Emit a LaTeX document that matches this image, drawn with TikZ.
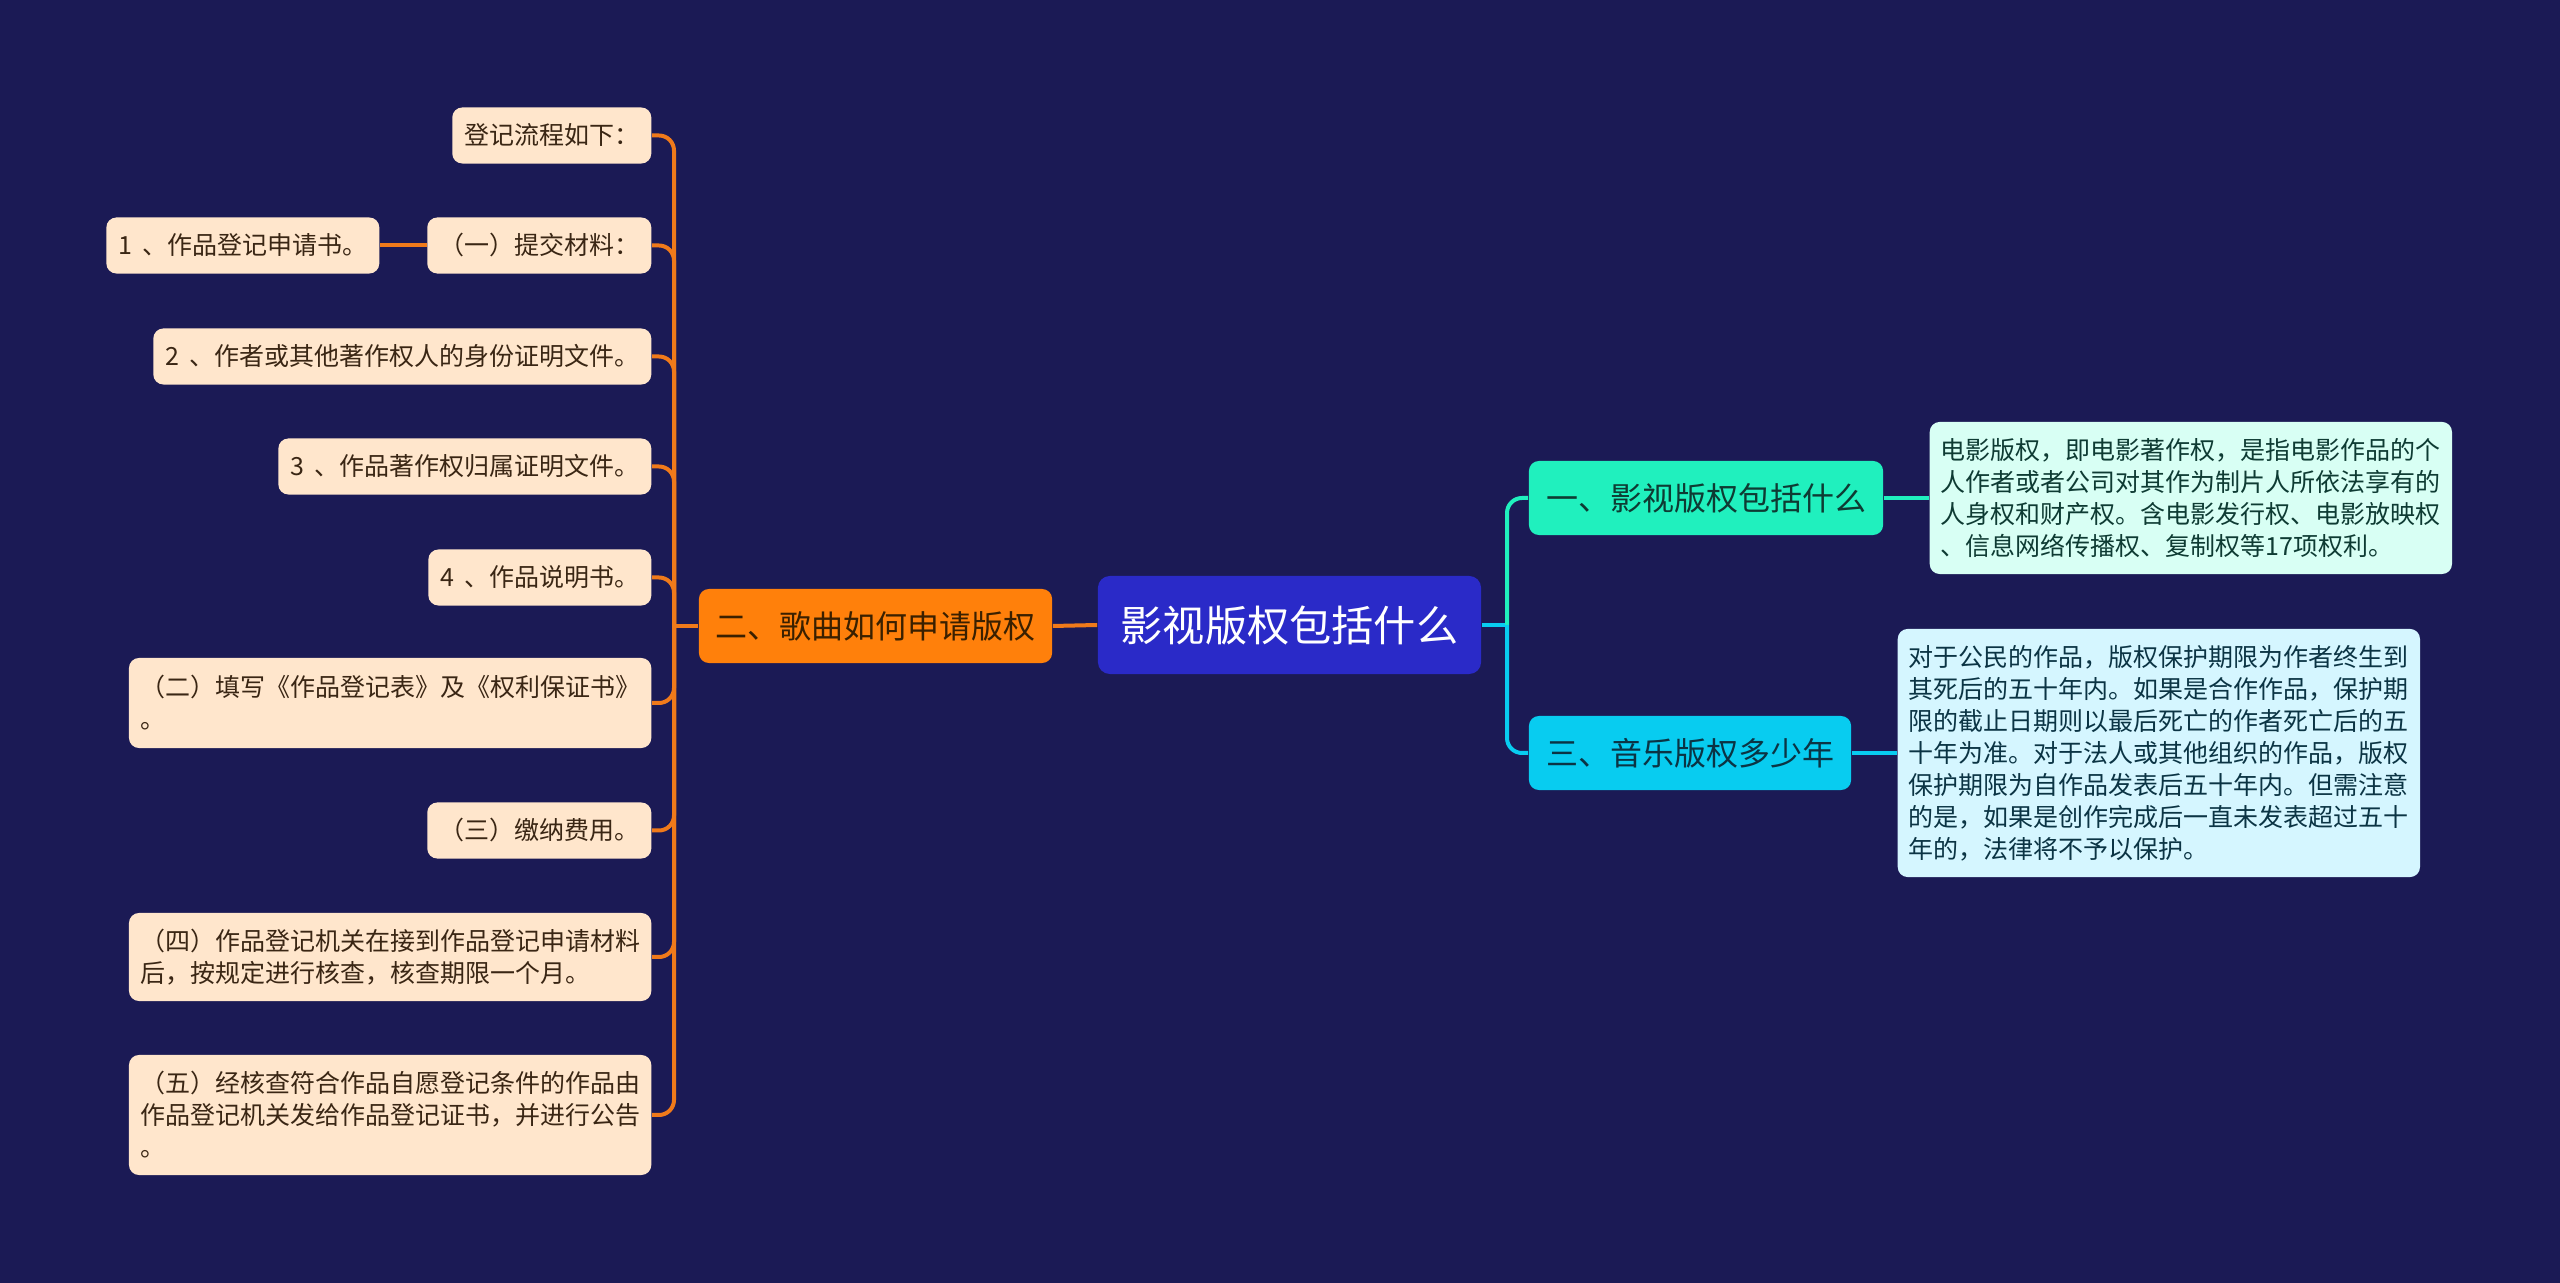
\documentclass[tikz,border=0pt]{standalone}
\usepackage{fontspec}
\setmainfont{Noto Sans CJK SC}
\definecolor{bg}{HTML}{1B1A55}
\definecolor{rootc}{HTML}{2A2AC8}
\definecolor{orangec}{HTML}{FF800B}
\definecolor{oline}{HTML}{F07A1A}
\definecolor{peach}{HTML}{FFE6CC}
\definecolor{leaftext}{HTML}{3A2614}
\definecolor{mint}{HTML}{20F0BE}
\definecolor{cyanc}{HTML}{08CCF0}
\definecolor{lmint}{HTML}{D8FFF4}
\definecolor{lcyan}{HTML}{D5F6FF}
\definecolor{minttext}{HTML}{0E3B33}
\definecolor{cyantext}{HTML}{0B3444}
\definecolor{orangetext}{HTML}{3A2000}
\newcommand{\dgap}{\hspace{0.1cm}}
\begin{document}
\begin{tikzpicture}[x=0.01cm,y=-0.01cm,
  leaf/.style={fill=peach, rounded corners=0.1cm, text=leaftext,
    font=\fontsize{7.11pt}{9.1pt}\selectfont, inner xsep=0.12cm, inner ysep=0pt,
    minimum height=0.56cm, anchor=east},
  multileaf/.style={leaf, text width=5.0cm, align=left, inner xsep=0.11cm},
  mainbr/.style={rounded corners=0.1cm, font=\fontsize{9.1pt}{11pt}\selectfont,
    minimum height=0.74cm, inner sep=0pt},
  textbox/.style={rounded corners=0.1cm, font=\fontsize{7.11pt}{9.1pt}\selectfont,
    text width=5.0cm, align=left, inner xsep=0.11cm, inner ysep=0pt},
  olink/.style={draw=oline, line width=0.04cm, rounded corners=0.15cm},
  mlink/.style={draw=mint, line width=0.04cm, rounded corners=0.15cm},
  clink/.style={draw=cyanc, line width=0.04cm, rounded corners=0.15cm}
]
\fill[bg] (0,0) rectangle (2560,1283);

% root
\node[fill=rootc, rounded corners=0.12cm, text=white, font=\fontsize{12pt}{14pt}\selectfont,
  minimum width=3.83cm, minimum height=0.98cm, inner sep=0pt] (root) at (1289.5,625) {影视版权包括什么};

% main branches
\node[mainbr, fill=orangec, text=orangetext, minimum width=3.53cm] (b2) at (875.5,626) {二、歌曲如何申请版权};
\node[mainbr, fill=mint, text=minttext, minimum width=3.54cm] (b1) at (1706,498) {一、影视版权包括什么};
\node[mainbr, fill=cyanc, text=cyantext, minimum width=3.22cm] (b3) at (1690,753) {三、音乐版权多少年};

% right text boxes
\node[textbox, fill=lmint, text=minttext, minimum height=1.52cm, anchor=west] (t1) at (1929,498)
  {电影版权，即电影著作权，是指电影作品的个\\人作者或者公司对其作为制片人所依法享有的\\人身权和财产权。含电影发行权、电影放映权\\、信息网络传播权、复制权等17项权利。};
\node[textbox, fill=lcyan, text=cyantext, minimum height=2.48cm, anchor=west] (t2) at (1897,753)
  {对于公民的作品，版权保护期限为作者终生到\\其死后的五十年内。如果是合作作品，保护期\\限的截止日期则以最后死亡的作者死亡后的五\\十年为准。对于法人或其他组织的作品，版权\\保护期限为自作品发表后五十年内。但需注意\\的是，如果是创作完成后一直未发表超过五十\\年的，法律将不予以保护。};

% left leaves
\node[leaf] (l0) at (652,135.5) {登记流程如下：};
\node[leaf] (l1) at (652,245.5) {（一）提交材料：};
\node[leaf] (l1a) at (380,245.5) {1\dgap、作品登记申请书。};
\node[leaf] (l2) at (652,356.5) {2\dgap、作者或其他著作权人的身份证明文件。};
\node[leaf] (l3) at (652,466.5) {3\dgap、作品著作权归属证明文件。};
\node[leaf] (l4) at (652,577.5) {4\dgap、作品说明书。};
\node[multileaf, minimum height=0.90cm] (l5) at (652,703) {（二）填写《作品登记表》及《权利保证书》\\。};
\node[leaf] (l6) at (652,830.5) {（三）缴纳费用。};
\node[multileaf, minimum height=0.88cm] (l7) at (652,957) {（四）作品登记机关在接到作品登记申请材料\\后，按规定进行核查，核查期限一个月。};
\node[multileaf, minimum height=1.20cm] (l8) at (652,1115) {（五）经核查符合作品自愿登记条件的作品由\\作品登记机关发给作品登记证书，并进行公告\\。};

% orange connectors
\coordinate (ot) at (674,626);
\draw[olink] (root.west) -- (b2.east);
\draw[olink] (b2.west) -- (ot);
\foreach \n in {l0,l1,l2,l3,l4,l5,l6,l7,l8}{
  \draw[olink] (ot) |- (\n.east);
}
\draw[olink] (l1.west) -- (l1a.east);

% cyan / mint connectors
\coordinate (ct) at (1507,625);
\draw[clink] (root.east) -- (ct);
\draw[mlink] (ct) |- (b1.west);
\draw[clink] (ct) |- (b3.west);
\draw[mlink] (b1.east) -- (t1.west);
\draw[clink] (b3.east) -- (t2.west);
\end{tikzpicture}
\end{document}
